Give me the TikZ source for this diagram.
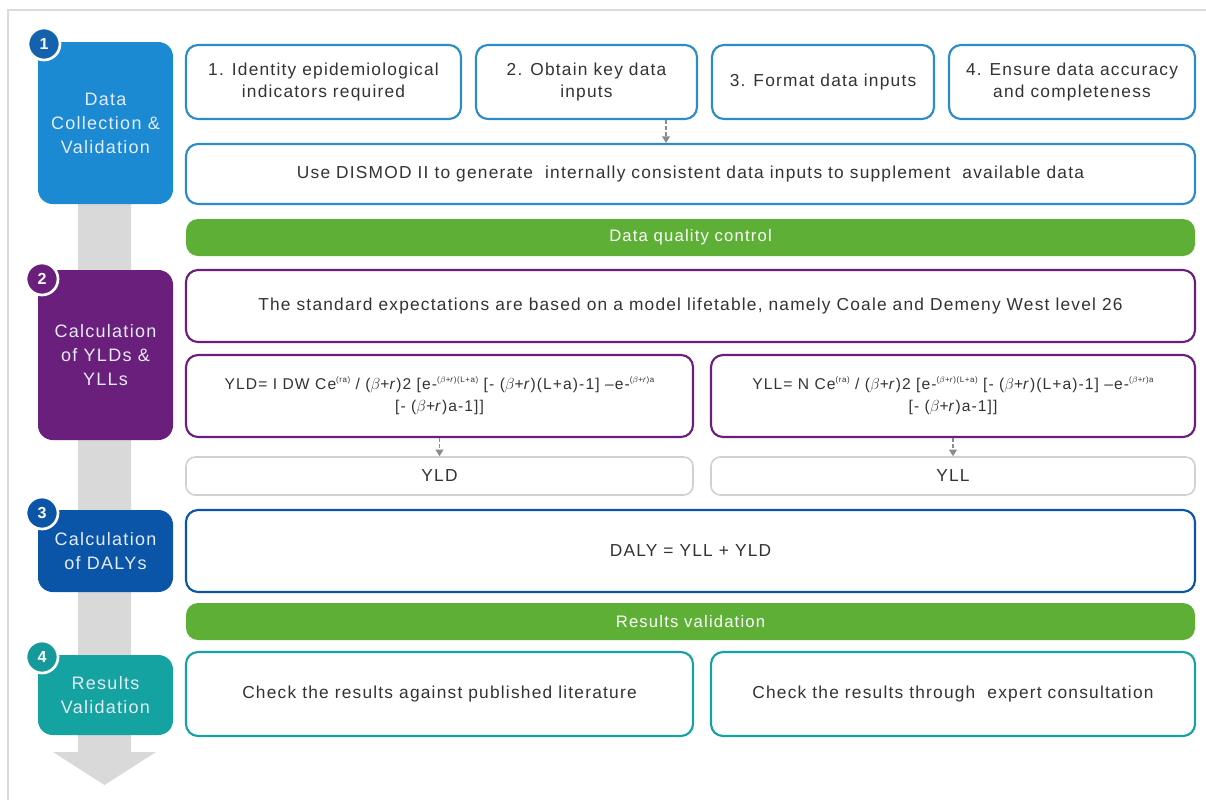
\documentclass[tikz,border=0pt]{standalone}
\usepackage{fontspec}
\setmainfont{Liberation Sans}[LetterSpace=7]
\usetikzlibrary{arrows.meta}
\definecolor{sblue}{HTML}{1B8AD3}
\definecolor{cblue}{HTML}{1462AE}
\definecolor{bblue}{HTML}{2B8CC8}
\definecolor{spurple}{HTML}{6B1F7C}
\definecolor{sdark}{HTML}{0B55A8}
\definecolor{steal}{HTML}{14A3A1}
\definecolor{cteal}{HTML}{15999B}
\definecolor{sgreen}{HTML}{5DB035}
\definecolor{garrow}{HTML}{D9D9D9}
\definecolor{gbox}{HTML}{D0D0D0}
\definecolor{txt}{HTML}{333333}
\definecolor{stxt}{HTML}{E6ECF4}
\newcommand\sups[1]{\raisebox{0.75ex}{\fontsize{6}{6}\selectfont #1}}
\tikzset{
  stagebox/.style={rounded corners=11pt, minimum width=101.25pt, text=stxt, align=center, font=\fontsize{13.5}{18}\selectfont, inner sep=0pt},
  numcirc/.style={circle, draw=white, line width=2pt, minimum size=24pt, inner sep=0pt, text=white, font=\fontsize{12}{12}\selectfont\bfseries},
  wbox/.style={draw, fill=white, line width=1.6pt, rounded corners=9pt, align=center, text=txt, font=\fontsize{13}{16}\selectfont, inner sep=0pt},
  fbox/.style={wbox, font=\fontsize{11.7}{17}\selectfont},
  gbar/.style={fill=sgreen, rounded corners=9pt, text=white, font=\fontsize{12.5}{15}\selectfont, inner sep=0pt, minimum width=756.75pt, minimum height=27.75pt},
  conn/.style={draw=gray!90, line width=0.8pt, dashed, dash pattern=on 3pt off 1.5pt, -{Triangle[length=5pt,width=6pt]}},
}
\begin{document}
\begin{tikzpicture}[x=0.75pt,y=-0.75pt]
\useasboundingbox (0,0) rectangle (1206,800);
\fill[white] (0,0) rectangle (1206,800);
% frame
\draw[gbox!80, line width=1.2pt] (8,800) -- (8,10) -- (1206,10);
% big gray arrow
\fill[garrow] (78,204) -- (131,204) -- (131,752) -- (156,752) -- (104.5,785) -- (53,752) -- (78,752) -- cycle;

% stage boxes
\node[stagebox, fill=sblue, minimum height=121.5pt] (s1) at (105.5,123) {Data\\Collection \&\\Validation};
\node[stagebox, fill=spurple, minimum height=127.5pt] (s2) at (105.5,355) {Calculation\\of YLDs \&\\YLLs};
\node[stagebox, fill=sdark, minimum height=61.5pt] (s3) at (105.5,551) {Calculation\\of DALYs};
\node[stagebox, fill=steal, minimum height=60pt] (s4) at (105.5,695) {Results\\Validation};

\node[numcirc, fill=cblue] (n1) at (44,44) {1};
\node[numcirc, fill=spurple] (n2) at (42,279) {2};
\node[numcirc, fill=sdark] (n3) at (42,513) {3};
\node[numcirc, fill=cteal] (n4) at (42,657) {4};

% stage 1
\node[wbox, draw=bblue, minimum width=206.25pt, minimum height=55.5pt] (b1) at (323.5,82) {1. Identity epidemiological\\indicators required};
\node[wbox, draw=bblue, minimum width=165.75pt, minimum height=55.5pt] (b2) at (586.5,82) {2. Obtain key data\\inputs};
\node[wbox, draw=bblue, minimum width=166.5pt, minimum height=55.5pt] (b3) at (823,82) {3. Format data inputs};
\node[wbox, draw=bblue, minimum width=184.5pt, minimum height=55.5pt] (b4) at (1072,82) {4. Ensure data accuracy\\and completeness};
\node[wbox, draw=bblue, minimum width=756.75pt, minimum height=45pt] (dm) at (690.5,174) {Use DISMOD II to generate\ \ internally consistent data inputs to supplement\ \ available data};
\coordinate (xa) at (666,0);
\draw[conn] (b2.south -| xa) -- (dm.north -| xa);

\node[gbar] (q1) at (690.5,237.5) {Data quality control};

% stage 2
\node[wbox, draw=spurple, minimum width=756.75pt, minimum height=54pt] (std) at (690.5,306) {The standard expectations are based on a model lifetable, namely Coale and Demeny West level 26};
\node[fbox, draw=spurple, minimum width=380.25pt, minimum height=61.5pt] (yldf) at (439.5,396)
 {YLD= I DW Ce\sups{(ra)} / ($\beta$+\textit{r})2 [e-\sups{($\beta$+\textit{r})(L+a)} [- ($\beta$+\textit{r})(L+a)-1] –e-\sups{($\beta$+\textit{r})a}\\{}[- ($\beta$+\textit{r})a-1]]};
\node[fbox, draw=spurple, minimum width=363pt, minimum height=61.5pt] (yllf) at (953,396)
 {YLL= N Ce\sups{(ra)} / ($\beta$+\textit{r})2 [e-\sups{($\beta$+\textit{r})(L+a)} [- ($\beta$+\textit{r})(L+a)-1] –e-\sups{($\beta$+\textit{r})a}\\{}[- ($\beta$+\textit{r})a-1]]};
\node[wbox, draw=gbox, line width=1.2pt, rounded corners=7pt, minimum width=380.25pt, minimum height=28.5pt] (yld) at (439.5,476) {YLD};
\node[wbox, draw=gbox, line width=1.2pt, rounded corners=7pt, minimum width=363pt, minimum height=28.5pt] (yll) at (953,476) {YLL};
\draw[conn] (yldf.south) -- (yld.north);
\draw[conn] (yllf.south) -- (yll.north);

% stage 3
\node[wbox, draw=sdark, minimum width=756.75pt, minimum height=61.5pt] (daly) at (690.5,551) {DALY = YLL + YLD};
\node[gbar] (q2) at (690.5,621.5) {Results validation};

% stage 4
\node[wbox, draw=steal, minimum width=380.25pt, minimum height=63pt] (c1) at (439.5,694) {Check the results against published literature};
\node[wbox, draw=steal, minimum width=363pt, minimum height=63pt] (c2) at (953,694) {Check the results through\ \ expert consultation};
\end{tikzpicture}
\end{document}
